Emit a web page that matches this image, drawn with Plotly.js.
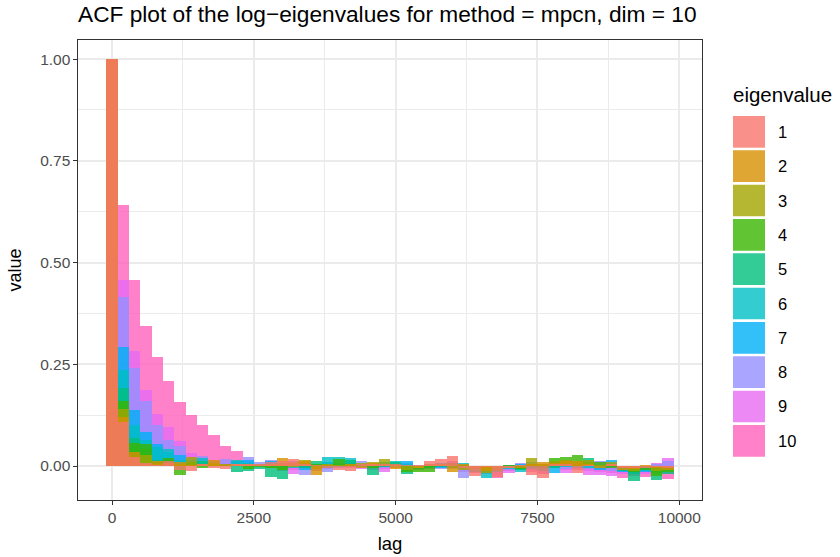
<!DOCTYPE html>
<html>
<head>
<meta charset="utf-8">
<script src="https://cdn.plot.ly/plotly-3.0.1.min.js"></script>
<style>html,body{margin:0;padding:0;background:#fff;}#chart{width:840px;height:557px;}</style>
</head>
<body>
<div id="chart"></div>
<script>
const lags = [0,200,400,600,800,1000,1200,1400,1600,1800,2000,2200,2400,2600,2800,3000,3200,3400,3600,3800,4000,4200,4400,4600,4800,5000,5200,5400,5600,5800,6000,6200,6400,6600,6800,7000,7200,7400,7600,7800,8000,8200,8400,8600,8800,9000,9200,9400,9600,9800];

const eig1 = [1,0.108,0.022,0.008,0.003,0.012,-0.010,-0.012,0.005,-0.004,-0.008,0.005,0.006,0.005,0.010,0.012,0.017,0.004,0.003,-0.004,-0.010,-0.012,0.006,0.005,0.006,0.004,0.003,0.002,0.012,0.017,0.025,-0.006,-0.025,-0.002,-0.026,-0.004,0.002,-0.021,-0.029,0.005,0.004,-0.018,0.003,0.001,0.004,-0.004,-0.005,-0.006,-0.002,-0.006];
const eig2 = [1,0.120,0.034,0.005,0.012,0.008,0.010,0.003,0.006,0.015,0.004,0.006,0.002,0.002,0.004,0.020,0.010,0.013,-0.022,0.002,0.001,0.004,-0.004,0.008,0.002,-0.007,0.001,-0.004,0.005,0.004,-0.015,0.004,-0.004,-0.012,-0.006,0.001,-0.005,0.006,0.010,0.008,0.012,0.012,0.006,-0.004,0.006,-0.010,-0.008,0.003,-0.006,-0.010];
const eig3 = [1,0.140,0.015,0.027,0.005,0.005,0.005,0.022,0.004,0.008,0.001,0.003,0.004,0.004,0.006,0.005,-0.002,0.015,-0.008,0.005,0.003,-0.003,0.008,0.010,0.017,0.002,-0.010,-0.006,0.003,0.006,0.004,-0.010,-0.010,-0.018,-0.010,-0.006,0.003,0.019,0.004,0.012,0.016,0.008,0.016,0.003,0.010,-0.006,-0.012,-0.002,-0.012,-0.004];
const eig4 = [1,0.160,0.057,0.054,0.010,0.020,-0.022,0.010,-0.005,0.003,0.002,0.004,-0.008,-0.003,-0.005,-0.010,0.005,0.008,0.006,0.001,0.017,0.006,0.002,-0.004,0.004,0.006,-0.015,-0.015,-0.014,0.002,0.008,0.002,-0.006,-0.008,-0.012,0.003,-0.008,0.004,-0.006,0.019,0.022,0.027,0.010,0.009,-0.006,0.001,-0.015,-0.010,-0.025,-0.015];
const eig5 = [1,0.192,0.069,0.045,0.015,0.015,0.005,0.005,0.012,0.002,0.006,-0.015,-0.012,-0.008,-0.026,-0.031,0.004,-0.004,0.012,-0.006,0.005,0.015,0.004,-0.022,-0.003,0.009,-0.020,0.001,-0.004,-0.002,-0.005,-0.004,-0.015,-0.010,-0.008,-0.002,-0.010,-0.005,-0.012,-0.004,0.006,0.005,0.019,-0.006,0.002,-0.012,-0.038,-0.004,-0.035,-0.020];
const eig6 = [1,0.236,0.101,0.064,0.047,0.042,0.015,0.010,0.020,0.004,0.003,0.015,0.008,0.006,0.008,0.008,-0.006,0.002,0.004,0.022,0.021,0.020,-0.002,0.002,0.010,0.012,0.005,-0.008,0.006,0.008,0.002,0.008,-0.008,-0.029,-0.015,-0.008,-0.014,0.002,0.002,0.003,-0.003,-0.004,-0.004,0.002,-0.002,-0.008,-0.020,-0.012,-0.015,-0.012];
const eig7 = [1,0.292,0.138,0.084,0.054,0.035,0.027,0.015,0.010,0.006,0.005,0.012,0.015,0.003,0.012,-0.004,0.009,-0.010,-0.004,0.010,-0.003,0.002,0.003,-0.006,0.005,0.003,0.012,-0.002,-0.006,-0.005,0.006,0.003,0.001,-0.005,-0.005,0.002,0.005,-0.008,-0.004,-0.018,0.002,0.002,0.002,-0.010,0.015,-0.014,-0.010,-0.015,-0.004,-0.002];
const eig8 = [1,0.415,0.241,0.160,0.101,0.064,0.049,0.020,0.024,0.010,0.017,0.010,0.021,0.009,0.015,0.003,0.012,-0.022,0.002,-0.015,-0.006,0.007,0.013,0.004,-0.006,-0.002,0.008,0.003,0.002,-0.007,-0.008,-0.029,-0.003,-0.006,-0.009,-0.010,0.008,0.010,0.006,-0.006,-0.008,-0.006,-0.008,0.012,-0.012,-0.005,-0.006,-0.008,0.004,0.012];
const eig9 = [1,0.457,0.283,0.187,0.128,0.096,0.061,0.032,0.020,0.012,0.010,0.008,0.005,0.001,0.002,0.006,-0.019,0.007,-0.012,0.004,0.008,-0.005,-0.008,0.003,-0.015,0.005,-0.005,0.000,-0.008,0.003,0.010,0.005,-0.012,-0.015,-0.020,-0.018,0.001,-0.012,-0.016,-0.002,-0.018,0.003,-0.022,-0.022,-0.024,-0.020,-0.018,-0.020,0.008,0.019];
const eig10 = [1,0.641,0.457,0.344,0.268,0.209,0.157,0.125,0.101,0.076,0.049,0.037,0.012,0.000,-0.004,-0.012,-0.010,-0.005,0.005,-0.008,0.002,0.003,0.001,-0.010,-0.008,-0.004,0.002,-0.010,-0.003,-0.003,0.012,-0.015,-0.018,-0.020,-0.029,-0.012,-0.006,-0.015,-0.020,0.010,-0.010,-0.010,-0.012,-0.015,-0.016,-0.029,-0.025,-0.026,-0.018,-0.033];

const eigNames = ['1','2','3','4','5','6','7','8','9','10'];
const eigColors = ['#F8766D','#D89000','#A3A500','#39B600','#00BF7D','#00BFC4','#00B0F6','#9590FF','#E76BF3','#FF62BC'];
const series = [eig1,eig2,eig3,eig4,eig5,eig6,eig7,eig8,eig9,eig10];

const FONT = 'Liberation Sans, Arial, sans-serif';

// draw eigenvalue 10 first so that eigenvalue 1 ends up on top
const traces = [];
for (let k = series.length - 1; k >= 0; k--) {
  traces.push({
    type: 'bar',
    x: lags,
    y: series[k],
    name: eigNames[k],
    width: 200,
    opacity: 0.8,
    marker: {color: eigColors[k], line: {width: 0}},
    showlegend: false,
    hoverinfo: 'x+y+name'
  });
}

// plot-area geometry (pixels)
const W = 840, H = 557, L = 78, R = 702, T = 40, B = 500;
const px2x = p => (p - L) / (R - L);
const py2y = p => (B - p) / (B - T);

// custom ggplot-style legend keys
const shapes = [];
const annotations = [];
annotations.push({
  xref: 'paper', yref: 'paper', x: px2x(731), y: py2y(94),
  xanchor: 'left', yanchor: 'middle', showarrow: false,
  text: 'eigenvalue', font: {family: FONT, size: 20.5, color: '#000000'}
});
const keyTop = 116, keyPitch = 34.33, keyH = 31.7;
for (let i = 0; i < eigNames.length; i++) {
  const top = keyTop + keyPitch * i;
  shapes.push({
    type: 'rect', xref: 'paper', yref: 'paper',
    x0: px2x(733), x1: px2x(765), y0: py2y(top + keyH), y1: py2y(top),
    fillcolor: eigColors[i], opacity: 0.8, line: {width: 0}, layer: 'above'
  });
  annotations.push({
    xref: 'paper', yref: 'paper', x: px2x(776), y: py2y(top + keyH / 2),
    xanchor: 'left', yanchor: 'middle', showarrow: false,
    text: eigNames[i], font: {family: FONT, size: 16.5, color: '#000000'}
  });
}

const layout = {
  width: W, height: H,
  margin: {l: L, r: W - R, t: T, b: H - B, pad: 0},
  paper_bgcolor: '#ffffff', plot_bgcolor: '#ffffff',
  barmode: 'overlay',
  bargap: 0,
  showlegend: false,
  font: {family: FONT, color: '#000000'},
  title: {
    text: 'ACF plot of the log\u2212eigenvalues for method = mpcn, dim = 10',
    font: {family: FONT, size: 22.7, color: '#000000'},
    xref: 'paper', x: 0, xanchor: 'left',
    yref: 'container', y: 1 - 14 / H, yanchor: 'middle'
  },
  xaxis: {
    range: [-600, 10400], autorange: false,
    tickmode: 'array', tickvals: [0, 2500, 5000, 7500, 10000],
    ticktext: ['0', '2500', '5000', '7500', '10000'],
    ticks: 'outside', ticklen: 3.6, tickwidth: 1, tickcolor: '#333333',
    tickfont: {family: FONT, size: 15.5, color: '#4D4D4D'},
    showgrid: true, gridcolor: '#EBEBEB', gridwidth: 2,
    minor: {tickmode: 'array', tickvals: [1250, 3750, 6250, 8750], showgrid: true, gridcolor: '#EBEBEB', gridwidth: 1, ticks: ''},
    zeroline: false,
    showline: true, mirror: true, linecolor: '#333333', linewidth: 1,
    title: {text: 'lag', font: {family: FONT, size: 18.5, color: '#000000'}, standoff: 11}
  },
  yaxis: {
    range: [-0.0835, 1.047], autorange: false,
    tickmode: 'array', tickvals: [0, 0.25, 0.5, 0.75, 1],
    ticktext: ['0.00', '0.25', '0.50', '0.75', '1.00'],
    ticks: 'outside', ticklen: 3.6, tickwidth: 1, tickcolor: '#333333',
    tickfont: {family: FONT, size: 15.5, color: '#4D4D4D'},
    showgrid: true, gridcolor: '#EBEBEB', gridwidth: 2,
    minor: {tickmode: 'array', tickvals: [0.125, 0.375, 0.625, 0.875], showgrid: true, gridcolor: '#EBEBEB', gridwidth: 1, ticks: ''},
    zeroline: false,
    showline: true, mirror: true, linecolor: '#333333', linewidth: 1,
    title: {text: 'value', font: {family: FONT, size: 18, color: '#000000'}, standoff: 13}
  },
  shapes: shapes,
  annotations: annotations
};

Plotly.newPlot('chart', traces, layout, {displayModeBar: false, staticPlot: true});
</script>
</body>
</html>
